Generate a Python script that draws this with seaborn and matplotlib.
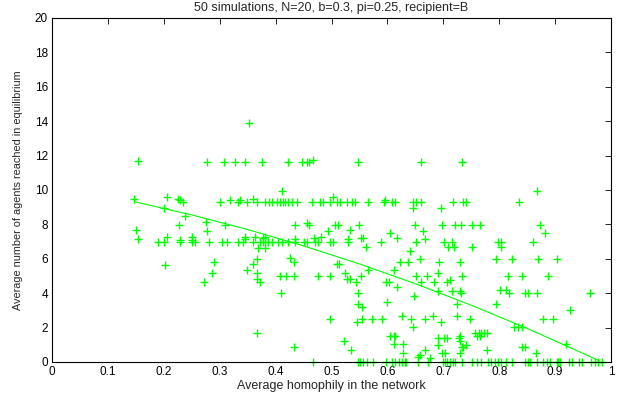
import numpy as np
import pandas as pd
import seaborn as sns
import matplotlib.pyplot as plt

# points, grouped roughly left to right
homophily = [
    0.153, 0.147, 0.206, 0.200, 0.226, 0.229, 0.235, 0.238, 0.227, 0.150,
    0.154, 0.189, 0.201, 0.206, 0.229, 0.229, 0.250, 0.250, 0.250, 0.203,
    0.352, 0.277, 0.307, 0.327, 0.346, 0.375,
    0.300, 0.318, 0.333, 0.336, 0.348, 0.360, 0.366, 0.381,
    0.275, 0.277, 0.309,
    0.256, 0.280, 0.304, 0.313, 0.333, 0.342, 0.360, 0.372, 0.377,
    0.346, 0.346, 0.364, 0.378, 0.369, 0.381,
    0.289, 0.286, 0.272, 0.366, 0.360, 0.348, 0.366, 0.366, 0.372, 0.367,
    0.422, 0.447, 0.456, 0.459, 0.467, 0.412,
    0.388, 0.393, 0.402, 0.408, 0.414, 0.417, 0.423, 0.429, 0.438, 0.465,
    0.479, 0.485, 0.497, 0.503,
    0.435, 0.457, 0.460, 0.493, 0.507,
    0.387, 0.393, 0.405, 0.411, 0.423, 0.435, 0.450, 0.456, 0.470, 0.476,
    0.497, 0.503, 0.381, 0.381, 0.435, 0.469, 0.481,
    0.426, 0.432, 0.408, 0.418, 0.432, 0.476, 0.497,
    0.409, 0.497, 0.432, 0.467, 0.509,
    0.547, 0.509, 0.515, 0.527, 0.536, 0.542, 0.566, 0.593, 0.596, 0.608, 0.614,
    0.512, 0.533, 0.549, 0.530, 0.530, 0.553, 0.557, 0.561, 0.589, 0.605, 0.618,
    0.513, 0.623, 0.524, 0.527, 0.533, 0.543, 0.553, 0.565, 0.597, 0.603,
    0.611, 0.617, 0.547, 0.547, 0.554, 0.600, 0.545, 0.554, 0.572, 0.590, 0.626,
    0.523, 0.535, 0.605, 0.611, 0.614, 0.612, 0.628, 0.628,
    0.548, 0.551, 0.557, 0.563, 0.575, 0.597, 0.608, 0.614, 0.620, 0.626, 0.631,
    0.660, 0.734, 0.646, 0.652, 0.660, 0.718, 0.736, 0.740, 0.645, 0.696,
    0.649, 0.697, 0.721, 0.732, 0.751, 0.664, 0.668, 0.651, 0.702, 0.715,
    0.709, 0.720, 0.752, 0.640, 0.636, 0.658, 0.692, 0.730, 0.691, 0.651,
    0.670, 0.734, 0.660, 0.684, 0.706, 0.712, 0.690, 0.716, 0.730, 0.732,
    0.648, 0.724, 0.682, 0.668, 0.642, 0.724, 0.748, 0.696, 0.646,
    0.690, 0.702, 0.706, 0.728, 0.730, 0.757, 0.691, 0.733, 0.736, 0.741,
    0.730, 0.668, 0.697, 0.703, 0.658, 0.655, 0.676, 0.730,
    0.634, 0.655, 0.673, 0.700, 0.703, 0.706, 0.712, 0.718, 0.721, 0.733, 0.751,
    0.867, 0.835, 0.766, 0.873, 0.882, 0.797, 0.803, 0.804, 0.861,
    0.794, 0.823, 0.870, 0.815, 0.840, 0.888,
    0.801, 0.813, 0.818, 0.846, 0.851, 0.867, 0.794, 0.879, 0.897,
    0.827, 0.833, 0.840, 0.763, 0.767, 0.773, 0.779, 0.760, 0.766,
    0.779, 0.840, 0.847, 0.865,
    0.760, 0.767, 0.780, 0.786, 0.792, 0.798, 0.803, 0.813, 0.822, 0.846,
    0.851, 0.855, 0.867, 0.879,
    0.903, 0.962, 0.927, 0.919,
    0.885, 0.891, 0.903, 0.906, 0.909, 0.924, 0.930, 0.942, 0.948, 0.965,
    0.971, 0.977, 0.983,
]
reached = [
    11.7, 9.46, 9.6, 8.97, 9.46, 9.4, 9.3, 8.47, 7.97, 7.66,
    7.13, 6.96, 6.97, 7.27, 7.1, 6.97, 7.27, 7.1, 6.97, 5.66,
    13.9, 11.6, 11.6, 11.6, 11.6, 11.6,
    9.3, 9.4, 9.3, 9.42, 9.3, 9.46, 9.3, 9.3,
    8.14, 7.63, 7.97,
    6.96, 6.96, 6.96, 6.96, 6.96, 6.96, 6.96, 6.96, 6.96,
    7.27, 7.13, 7.27, 7.2, 6.65, 6.65,
    5.8, 5.16, 4.67, 5.99, 5.68, 5.35, 5.16, 4.81, 4.65, 1.71,
    11.6, 11.6, 11.6, 11.6, 11.74, 9.96,
    9.32, 9.32, 9.32, 9.32, 9.32, 9.32, 9.32, 9.32, 9.32, 9.32,
    9.32, 9.32, 9.32, 9.6,
    7.97, 8.1, 7.97, 7.63, 7.97,
    7.0, 7.0, 7.0, 7.0, 7.0, 7.0, 7.0, 7.0, 7.0, 7.0,
    7.0, 7.0, 7.0, 7.27, 7.17, 7.19, 7.28,
    6.03, 5.81, 5.0, 5.0, 5.0, 5.0, 5.0,
    4.01, 2.5, 0.85, 0.0, 5.7,
    11.6, 9.32, 9.32, 9.32, 9.32, 9.32, 9.32, 9.32, 9.4, 9.32, 9.32,
    7.97, 7.67, 7.97, 7.13, 7.0, 7.19, 7.19, 6.67, 7.0, 7.48, 7.19,
    5.68, 5.83, 5.19, 4.81, 4.81, 4.67, 5.02, 5.35, 4.67, 4.67,
    5.35, 4.34, 4.01, 3.35, 3.18, 3.51, 2.34, 2.5, 2.5, 2.5, 2.67,
    1.22, 0.7, 1.51, 1.51, 1.51, 1.03, 1.03, 0.5,
    0.0, 0.0, 0.0, 0.0, 0.0, 0.0, 0.0, 0.0, 0.0, 0.0, 0.0,
    11.6, 11.6, 9.32, 9.32, 9.32, 9.32, 9.32, 9.32, 8.95, 8.95,
    7.97, 7.97, 7.97, 7.97, 7.97, 7.63, 7.13, 7.0, 6.97, 6.97,
    6.67, 6.67, 6.67, 6.47, 5.8, 5.99, 5.8, 5.8, 5.16, 5.02,
    5.02, 5.02, 4.67, 4.67, 4.67, 4.77, 4.15, 4.15, 4.15, 4.0,
    3.84, 3.35, 2.69, 2.5, 2.5, 2.67, 2.5, 2.34, 2.02,
    1.38, 1.38, 1.38, 1.38, 1.5, 1.71, 0.99, 0.89, 0.89, 0.99,
    1.24, 0.7, 0.54, 0.54, 0.41, 0.27, 0.21, 0.5,
    0.0, 0.0, 0.0, 0.0, 0.0, 0.0, 0.0, 0.0, 0.0, 0.0, 0.0,
    9.94, 9.3, 7.97, 7.97, 7.48, 7.0, 6.97, 6.67, 6.97,
    5.99, 5.99, 5.99, 5.02, 5.02, 5.02,
    4.19, 4.19, 4.01, 4.01, 4.01, 4.01, 3.35, 2.5, 2.5,
    2.02, 2.02, 2.05, 1.69, 1.69, 1.69, 1.69, 1.51, 1.51,
    0.7, 0.85, 0.85, 0.54,
    0.0, 0.0, 0.0, 0.0, 0.0, 0.0, 0.0, 0.0, 0.0, 0.0,
    0.0, 0.0, 0.0, 0.0,
    5.99, 4.01, 3.0, 1.03,
    0.0, 0.0, 0.0, 0.0, 0.0, 0.0, 0.0, 0.0, 0.0, 0.0,
    0.0, 0.0, 0.0,
]

# fitted curve, read at a few x positions
fit_x = [0.15, 0.25, 0.35, 0.45, 0.55, 0.65, 0.75, 0.85, 0.95, 0.98]
fit_y = [9.30, 8.55, 7.70, 6.75, 5.70, 4.55, 3.30, 1.95, 0.50, 0.05]

sns.set_style("white")
plt.rcParams['font.family'] = ['Liberation Sans', 'DejaVu Sans']

data = pd.DataFrame({"homophily": homophily, "reached": reached})
fit = pd.DataFrame({"x": fit_x, "y": fit_y})

fig = plt.figure(figsize=(6.29, 3.97), dpi=100)
ax = fig.add_axes([0.0827, 0.0882, 0.8887, 0.8665])

sns.scatterplot(data=data, x="homophily", y="reached", marker="+", s=40,
                color="#00ff00", linewidth=1, clip_on=False, ax=ax)
sns.lineplot(data=fit, x="x", y="y", color="#00ff00", linewidth=0.8, ax=ax)

ax.set_xlim(0, 1)
ax.set_ylim(0, 20)
xt = np.round(np.arange(0, 1.01, 0.1), 1)
ax.set_xticks(xt)
ax.set_xticklabels(["0"] + [f"{v:g}" for v in xt[1:-1]] + ["1"])
ax.set_yticks(range(0, 21, 2))
ax.tick_params(direction="in", top=True, right=True, length=4, width=0.6,
               labelsize=8.5, pad=3, colors="black")
for s in ax.spines.values():
    s.set_color("black")
    s.set_linewidth(0.8)

ax.set_xlabel("Average homophily in the network", fontsize=9, labelpad=1)
ax.set_ylabel("Average number of agents reached in equilibrium", fontsize=7.8, labelpad=8)
ax.set_title("50 simulations, N=20, b=0.3, pi=0.25, recipient=B", fontsize=9, pad=5)

fig.savefig("out.png", dpi=100)
